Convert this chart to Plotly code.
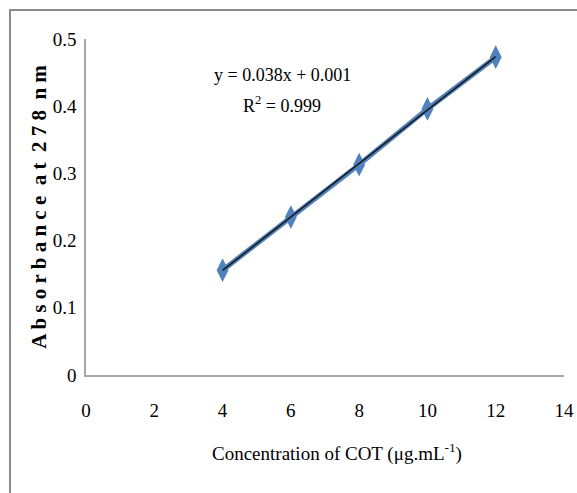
import numpy as np
import plotly.graph_objects as go

conc = [4, 6, 8, 10, 12]
absorbance = [0.156, 0.235, 0.313, 0.396, 0.473]
x_ticks = [0, 2, 4, 6, 8, 10, 12, 14]
y_ticks = [0, 0.1, 0.2, 0.3, 0.4, 0.5]
y_tick_text = ["0", "0.1", "0.2", "0.3", "0.4", "0.5"]
equation = "y = 0.038x + 0.001"
r2_text = "R<sup>2</sup> = 0.999"
x_title = "Concentration of COT (μg.mL<sup>-1</sup>)"
y_title = "<b>A b s o r b a n c e  a t  2 7 8  n m</b>"

slope, intercept = np.polyfit(conc, absorbance, 1)
fit_x = [min(conc), max(conc)]
fit_y = [slope * v + intercept for v in fit_x]

FONT = "Liberation Serif"

fig = go.Figure()
fig.add_trace(go.Scatter(x=conc, y=absorbance, mode="lines+markers",
                         line=dict(color="#4F81BD", width=5),
                         marker=dict(symbol="diamond-tall", size=17, color="#4F81BD"),
                         showlegend=False))
fig.add_trace(go.Scatter(x=fit_x, y=fit_y, mode="lines",
                         line=dict(color="#1a1a1a", width=1.6), showlegend=False))

L, R, T, B = 86, 13, 39, 118
W, H = 577, 493
pw, ph = W - L - R, H - T - B

def px(x):
    return (x - L) / pw

def py(y):
    return (H - B - y) / ph

border = dict(color="#8c8c8c", width=2)
fig.add_shape(type="line", xref="paper", yref="paper",
              x0=px(9), x1=px(577), y0=py(10), y1=py(10), line=border)
fig.add_shape(type="line", xref="paper", yref="paper",
              x0=px(10), x1=px(10), y0=py(9), y1=py(493), line=border)

fig.add_annotation(x=5.75, y=0.446, xref="x", yref="y", text=equation, showarrow=False,
                   font=dict(family=FONT, size=18, color="#000"))
fig.add_annotation(x=5.75, y=0.402, xref="x", yref="y", text=r2_text, showarrow=False,
                   font=dict(family=FONT, size=18, color="#000"))
fig.add_annotation(x=px(337), y=py(452), xref="paper", yref="paper", text=x_title,
                   xanchor="center", yanchor="middle",
                   showarrow=False, font=dict(family=FONT, size=19, color="#000"))

fig.update_layout(
    width=W, height=H,
    margin=dict(l=L, r=R, t=T, b=B, autoexpand=False),
    paper_bgcolor="white", plot_bgcolor="white",
    font=dict(family=FONT, color="#000"),
    xaxis=dict(range=[0, 14], tickvals=x_ticks, showgrid=False, zeroline=False,
               showline=True, linecolor="#a6a6a6", linewidth=1.5, ticks="", automargin=False,
               ticklabelstandoff=17, tickfont=dict(family=FONT, size=19)),
    yaxis=dict(range=[0, 0.5], tickvals=y_ticks, ticktext=y_tick_text, showgrid=False,
               zeroline=False, showline=True, linecolor="#a6a6a6", linewidth=1.5, ticks="",
               automargin=False,
               ticklabelstandoff=4, tickfont=dict(family=FONT, size=19),
               title=dict(text=y_title, font=dict(family=FONT, size=21), standoff=0)),
)

post = (
    "document.body.style.margin='0px';"
    "var b=document.createElement('div');"
    "b.style.cssText='position:absolute;left:9px;top:9px;width:700px;height:700px;"
    "border-top:2px solid #8c8c8c;border-left:2px solid #8c8c8c;pointer-events:none;z-index:1000;';"
    "document.body.appendChild(b);"
)
fig.write_html("out.html", config={"displayModeBar": False}, post_script=post)
